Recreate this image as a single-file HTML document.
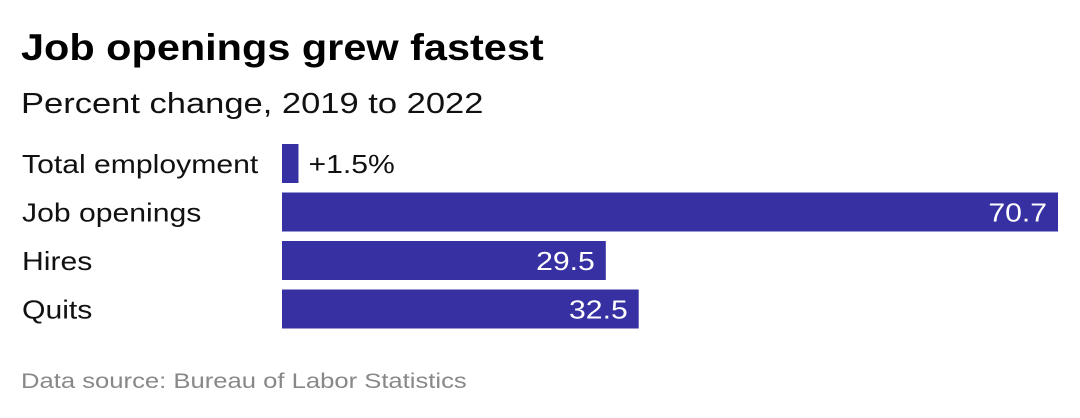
<!DOCTYPE html>
<html><head><meta charset="utf-8"><style>
body{margin:0;width:1080px;height:418px;background:#fff;font-family:"Liberation Sans",sans-serif;overflow:hidden;position:relative}
.t{position:absolute;left:21px;top:27px;font-size:37px;font-weight:bold;color:#000;transform:scaleX(1.12);transform-origin:left top;white-space:nowrap}
.s{position:absolute;left:21px;top:88px;font-size:29px;color:#111;transform:scaleX(1.19);transform-origin:left top;white-space:nowrap}
.src{position:absolute;left:21px;top:370px;font-size:21px;color:#888;transform:scaleX(1.22);transform-origin:left top;white-space:nowrap}
</style></head><body>
<div class="t">Job openings grew fastest</div>
<div class="s">Percent change, 2019 to 2022</div>
<svg id="c" width="1080" height="418" style="position:absolute;left:0;top:0"></svg>
<div class="src">Data source: Bureau of Labor Statistics</div>
<script>
const categories=["Total employment","Job openings","Hires","Quits"];
const values=[1.5,70.7,29.5,32.5];
const valueLabels=["+1.5%","70.7","29.5","32.5"];
const x0=282,x1=1058,maxV=70.7;
const xs=v=>x0+(v/maxV)*(x1-x0);
const rowY=i=>144+i*48.5;
const svg=document.getElementById('c');
const NS="http://www.w3.org/2000/svg";
categories.forEach((c,i)=>{
 const y=rowY(i);
 const lab=document.createElementNS(NS,'text');
 
 
 lab.setAttribute('transform','translate(22,'+(y+29)+') scale(1.16,1)');
 lab.setAttribute('font-size','26');lab.setAttribute('fill','#111');
 lab.textContent=c;svg.appendChild(lab);
 const r=document.createElementNS(NS,'rect');
 
 
 r.setAttribute('x',x0);r.setAttribute('y',y);
 r.setAttribute('width',xs(values[i])-x0);r.setAttribute('height',39);
 r.setAttribute('fill','#3730a3');svg.appendChild(r);
 const v=document.createElementNS(NS,'text');
 
 
 v.setAttribute('font-size','26');
 if(xs(values[i])-x0>80){v.setAttribute('transform','translate('+(xs(values[i])-11)+','+(y+29)+') scale(1.16,1)');v.setAttribute('text-anchor','end');v.setAttribute('fill','#fff');}
 else{v.setAttribute('transform','translate('+(xs(values[i])+10)+','+(y+29)+') scale(1.16,1)');v.setAttribute('fill','#111');}
 v.textContent=valueLabels[i];svg.appendChild(v);
});
</script>
</body></html>
